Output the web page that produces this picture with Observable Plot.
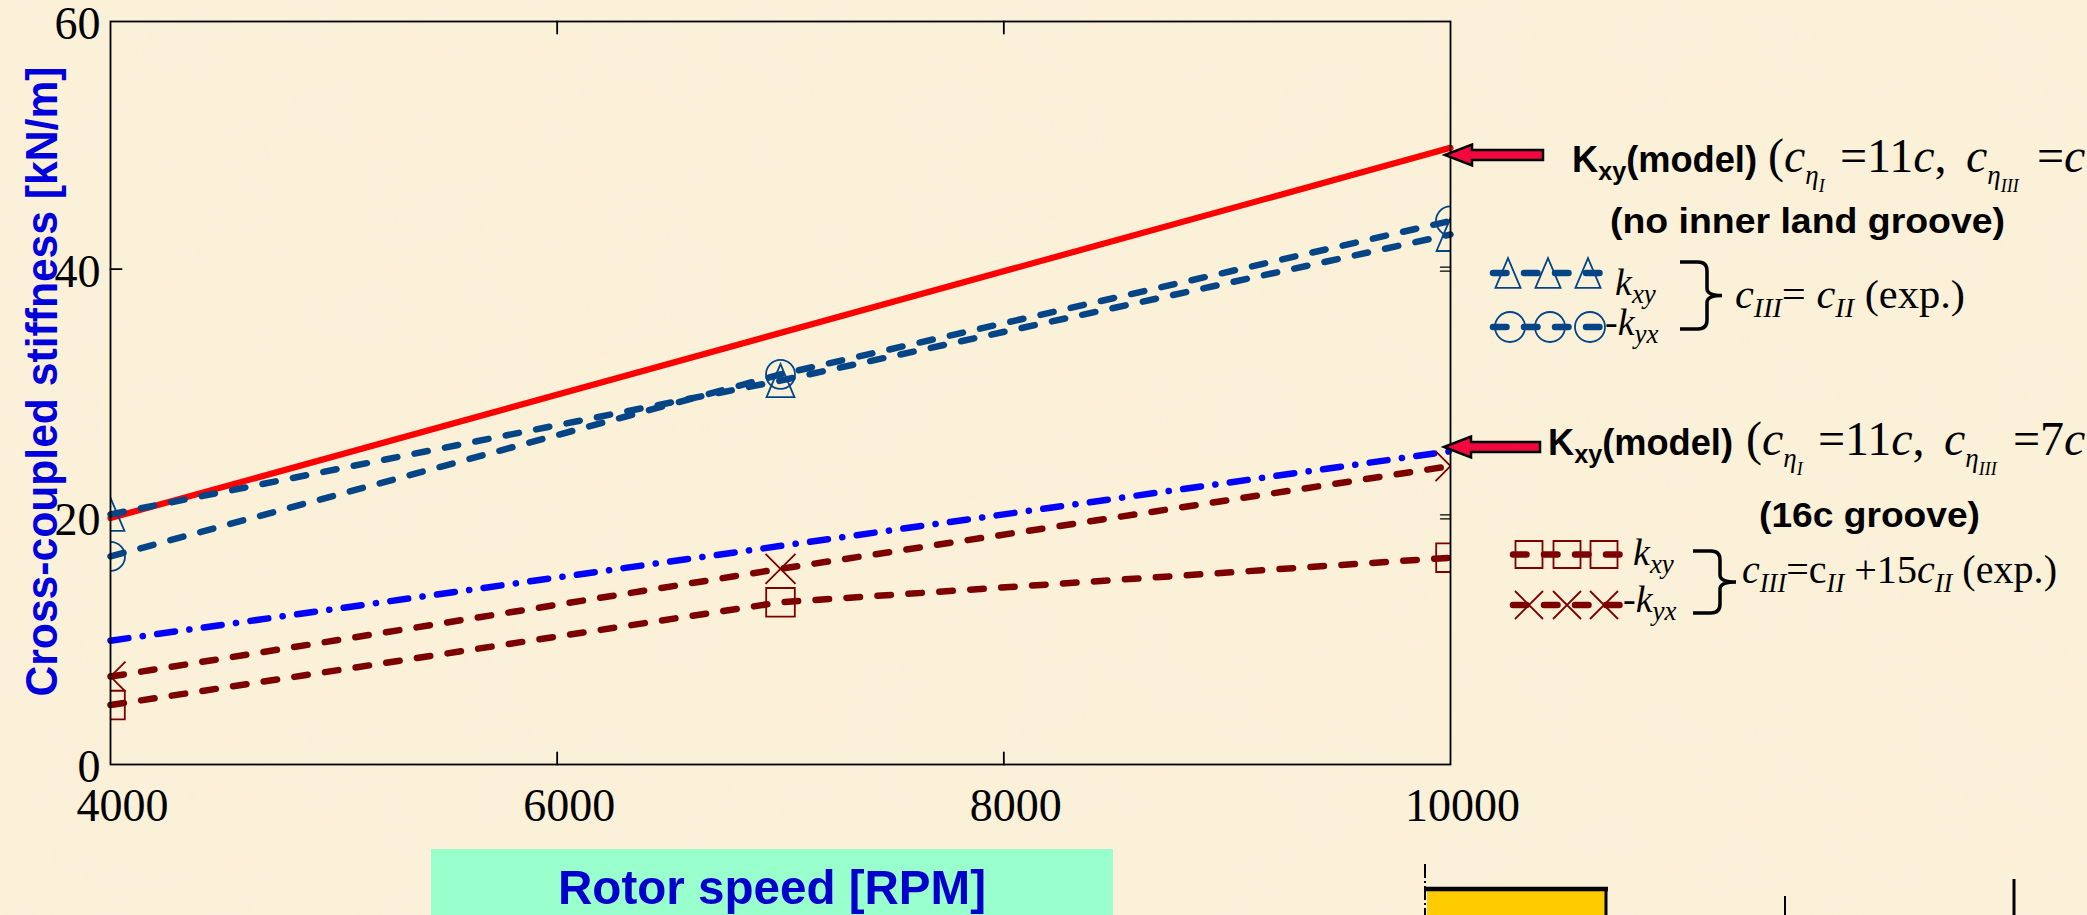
<!DOCTYPE html>
<html><head><meta charset="utf-8">
<script src="https://cdn.jsdelivr.net/npm/d3@7"></script>
<script src="https://cdn.jsdelivr.net/npm/@observablehq/plot@0.6"></script>
<style>
html,body{margin:0;padding:0;background:#FBF0D8;overflow:hidden}
#chart{position:relative;width:2087px;height:915px}
#chart svg{display:block;position:absolute;left:0;top:0}
</style></head><body><div id="chart">
<svg width="2087" height="915" aria-hidden="true">
  <filter id="paper" x="0" y="0" width="100%" height="100%">
    <feTurbulence type="fractalNoise" baseFrequency="0.011" numOctaves="3" seed="7"/>
    <feColorMatrix type="matrix" values="0 0 0 0 0.93  0 0 0 0 0.86  0 0 0 0 0.70  1.1 0 0 0 -0.45"/>
  </filter>
  <rect width="2087" height="915" filter="url(#paper)" opacity="0.35"/>
</svg>
</div>
<script>
// ---- data ----
const rpmTicks = [4000, 6000, 8000, 10000];
const stiffTicks = [0, 20, 40, 60];
const rpmInnerTicks = [6000, 8000];
const stiffInnerTicks = [20, 40];
const rpmExp = [4000, 7000, 10000];
const rpmModel = [4000, 10000];
const kxyModelNoGroove = [19.9, 49.8];
const kxyModelGroove16c = [10.0, 25.3];
const kxyNoGroove = [20.2, 31.0, 42.8];
const kyxNoGroove = [16.8, 31.5, 43.9];
const kxyGroove16c = [4.8, 13.1, 16.7];
const negKyxGroove16c = [7.1, 15.8, 24.1];

const rows = (xs, vs) => xs.map((x, i) => ({rpm: x, v: vs[i]}));
const modelA = rows(rpmModel, kxyModelNoGroove);
const modelB = rows(rpmModel, kxyModelGroove16c);
const triData = rows(rpmExp, kxyNoGroove);
const cirData = rows(rpmExp, kyxNoGroove);
const sqData = rows(rpmExp, kxyGroove16c);
const xData = rows(rpmExp, negKyxGroove16c);

const navy = "#034586", maroon = "#7D0000";
const dashed = "13.5,17.5";
const dashDot = "18,14.5,0.1,14.5";

// custom MATLAB-like symbols
const triSym = {draw(c, s) { const r = Math.sqrt(s / Math.PI); c.moveTo(0, -1.1 * r); c.lineTo(0.93 * r, 1.1 * r); c.lineTo(-0.93 * r, 1.1 * r); c.closePath(); }};
const sqSym = {draw(c, s) { const r = Math.sqrt(s / Math.PI); c.rect(-r, -r, 2 * r, 2 * r); }};
const xSym = {draw(c, s) { const r = Math.sqrt(s / Math.PI); c.moveTo(-r, -r); c.lineTo(r, r); c.moveTo(r, -r); c.lineTo(-r, r); }};
const cirSym = {draw(c, s) { const r = Math.sqrt(s / Math.PI); c.moveTo(r, 0); c.arc(0, 0, r, 0, 2 * Math.PI); }};
const tickShape = {draw(c, l) { c.moveTo(0, 0); c.lineTo(0, -l); }};

const serif = "Liberation Serif, Times New Roman, serif";
const sans = "Liberation Sans, Arial, sans-serif";

const chart = Plot.plot({
  width: 2087, height: 915,
  marginLeft: 110, marginRight: 637, marginTop: 21, marginBottom: 151,
  x: {domain: [4000, 10000], label: null},
  y: {domain: [0, 60], label: null},
  style: {background: "transparent", overflow: "visible"},
  marks: [
    Plot.axisX(rpmTicks, {tickSize: 0, tickPadding: 24, dx: 12, fontSize: 46, fontFamily: serif, fill: "#000", tickFormat: d => `${d}`, label: null}),
    Plot.axisY(stiffTicks, {tickSize: 0, tickPadding: 10, dy: 3, fontSize: 46, fontFamily: serif, fill: "#000", tickFormat: d => `${d}`, label: null}),
    // inward ticks
    Plot.vector(rpmInnerTicks, {x: d => d, y: () => 0, length: 12, rotate: 0, anchor: "start", shape: tickShape, stroke: "#000", strokeWidth: 1.8}),
    Plot.vector(rpmInnerTicks, {x: d => d, y: () => 60, length: 12, rotate: 180, anchor: "start", shape: tickShape, stroke: "#000", strokeWidth: 1.8}),
    Plot.vector(stiffInnerTicks, {x: () => 4000, y: d => d, length: 11, rotate: 90, anchor: "start", shape: tickShape, stroke: "#000", strokeWidth: 1.8}),
    Plot.vector(stiffInnerTicks, {x: () => 10000, y: d => d, length: 10, rotate: -90, anchor: "start", shape: tickShape, stroke: "#000", strokeWidth: 1.4, dy: -2}),
    Plot.vector(stiffInnerTicks, {x: () => 10000, y: d => d, length: 10, rotate: -90, anchor: "start", shape: tickShape, stroke: "#000", strokeWidth: 1.4, dy: 2}),
    Plot.line(modelA, {x: "rpm", y: "v", stroke: "#FF0000", strokeWidth: 6.2}),
    Plot.line(modelB, {x: "rpm", y: "v", stroke: "#0000FF", strokeWidth: 6.5, strokeDasharray: dashDot, strokeLinecap: "round"}),
    Plot.line(sqData, {x: "rpm", y: "v", stroke: maroon, strokeWidth: 6.5, strokeDasharray: dashed, strokeLinecap: "round"}),
    Plot.line(xData, {x: "rpm", y: "v", stroke: maroon, strokeWidth: 6.5, strokeDasharray: dashed, strokeLinecap: "round"}),
    Plot.line(triData, {x: "rpm", y: "v", stroke: navy, strokeWidth: 6.5, strokeDasharray: dashed, strokeLinecap: "round"}),
    Plot.line(cirData, {x: "rpm", y: "v", stroke: navy, strokeWidth: 6.5, strokeDasharray: dashed, strokeLinecap: "round"}),
    Plot.dot(triData, {x: "rpm", y: "v", symbol: triSym, r: 15, fill: "none", stroke: navy, strokeWidth: 1.8, clip: true}),
    Plot.dot(cirData, {x: "rpm", y: "v", symbol: cirSym, r: 14.5, fill: "none", stroke: navy, strokeWidth: 1.8, clip: true}),
    Plot.dot(sqData, {x: "rpm", y: "v", symbol: sqSym, r: 14.3, fill: "none", stroke: maroon, strokeWidth: 1.8, clip: true}),
    Plot.dot(xData, {x: "rpm", y: "v", symbol: xSym, r: 15, fill: "none", stroke: maroon, strokeWidth: 1.8, clip: true}),
    Plot.frame({stroke: "#000", strokeWidth: 1.8})
  ]
});
document.getElementById("chart").appendChild(chart);

// ---- annotations (pixel space) ----
const svg = d3.select(chart);
const g = svg.append("g").attr("text-anchor", "start");

// x-axis title box
g.append("rect").attr("x", 431).attr("y", 849).attr("width", 682).attr("height", 70).attr("fill", "#99FFCC");
g.append("text").attr("x", 772).attr("y", 904).attr("text-anchor", "middle")
  .attr("font-family", sans).attr("font-weight", "bold").attr("font-size", 49).attr("fill", "#0000CC")
  .attr("textLength", 428).attr("lengthAdjust", "spacingAndGlyphs").text("Rotor speed [RPM]");
// y-axis title
g.append("text").attr("transform", "translate(57,381.5) rotate(-90)").attr("text-anchor", "middle")
  .attr("font-family", sans).attr("font-weight", "bold").attr("font-size", 45).attr("fill", "#0000DD")
  .attr("textLength", 630).attr("lengthAdjust", "spacingAndGlyphs").text("Cross-coupled stiffness [kN/m]");

// arrows
function arrow(tipX, tipY, tailX) {
  const hb = tipX + 27;
  const pts = [[tipX, tipY], [hb, tipY - 10.5], [hb, tipY - 5], [tailX, tipY - 5], [tailX, tipY + 5], [hb, tipY + 5], [hb, tipY + 10.5]];
  g.append("polygon").attr("points", pts.map(p => p.join(",")).join(" "))
    .attr("fill", "#F2083E").attr("stroke", "#000").attr("stroke-width", 2.5).attr("stroke-linejoin", "miter");
}
arrow(1445, 155, 1543);
arrow(1444, 447, 1540);

// "Kxy(model)" labels
function kmodel(x, y) {
  const t = g.append("text").attr("x", x).attr("y", y).attr("font-family", sans).attr("font-weight", "bold")
    .attr("font-size", 36).attr("fill", "#000").attr("textLength", 185).attr("lengthAdjust", "spacingAndGlyphs");
  t.append("tspan").text("K");
  t.append("tspan").attr("font-size", 25).attr("dy", 8).text("xy");
  t.append("tspan").attr("dy", -8).text("(model)");
}
kmodel(1572, 172);
kmodel(1548, 455);

// math parts: {x (optional absolute), t, i: italic, fs, dy (relative to base line)}
function math(y, parts) {
  const t = g.append("text").attr("y", y).attr("font-family", serif).attr("font-size", 48).attr("fill", "#000");
  for (const p of parts) {
    const s = t.append("tspan").text(p.t).attr("y", y + (p.dy || 0));
    if (p.x != null) s.attr("x", p.x);
    if (p.i) s.attr("font-style", "italic");
    if (p.fs) s.attr("font-size", p.fs);
  }
}
math(172, [
  {x: 1768, t: "("}, {t: "c", i: 1},
  {t: "\u03B7", i: 1, fs: 27, dy: 12}, {t: "I", i: 1, fs: 18, dy: 20},
  {x: 1840, t: "=11"}, {t: "c", i: 1}, {t: ","},
  {x: 1966, t: "c", i: 1}, {t: "\u03B7", i: 1, fs: 27, dy: 12}, {t: "III", i: 1, fs: 18, dy: 20},
  {x: 2037, t: "="}, {t: "c", i: 1}
]);
math(455, [
  {x: 1746, t: "("}, {t: "c", i: 1},
  {t: "\u03B7", i: 1, fs: 27, dy: 12}, {t: "I", i: 1, fs: 18, dy: 20},
  {x: 1818, t: "=11"}, {t: "c", i: 1}, {t: ","},
  {x: 1944, t: "c", i: 1}, {t: "\u03B7", i: 1, fs: 27, dy: 12}, {t: "III", i: 1, fs: 18, dy: 20},
  {x: 2013, t: "=7"}, {t: "c", i: 1}
]);

// subtitles
g.append("text").attr("x", 1610).attr("y", 233).attr("font-family", sans).attr("font-weight", "bold").attr("font-size", 35)
  .attr("textLength", 395).attr("lengthAdjust", "spacingAndGlyphs").text("(no inner land groove)");
g.append("text").attr("x", 1759).attr("y", 527).attr("font-family", sans).attr("font-weight", "bold").attr("font-size", 35)
  .attr("textLength", 221).attr("lengthAdjust", "spacingAndGlyphs").text("(16c groove)");

// legend samples
function sample(y, x0, x1, xs, sym, r, color) {
  g.append("line").attr("x1", x0).attr("x2", x1).attr("y1", y).attr("y2", y).attr("stroke", color)
    .attr("stroke-width", 6.5).attr("stroke-dasharray", dashed).attr("stroke-linecap", "round");
  for (const x of xs) {
    g.append("path").attr("transform", `translate(${x},${y})`).attr("d", d3.symbol(sym, Math.PI * r * r)())
      .attr("fill", "none").attr("stroke", color).attr("stroke-width", 1.8);
  }
}
sample(273, 1493, 1607, [1508, 1548, 1588], triSym, 13.5, navy);
sample(327, 1493, 1607, [1510, 1550, 1590], cirSym, 15, navy);
sample(554.5, 1513, 1620, [1529, 1567, 1604], sqSym, 13.5, maroon);
sample(605, 1513, 1620, [1529, 1567, 1604], xSym, 14, maroon);

function klabel(x, y, pre, sub) {
  const t = g.append("text").attr("x", x).attr("y", y).attr("font-family", serif).attr("font-size", 38).attr("fill", "#000");
  if (pre) t.append("tspan").text(pre);
  t.append("tspan").attr("font-style", "italic").text("k");
  t.append("tspan").attr("font-style", "italic").attr("font-size", 27).attr("dy", 8).text(sub);
}
klabel(1615, 295, "", "xy");
klabel(1605, 335, "-", "yx");
klabel(1633, 565, "", "xy");
klabel(1623, 612, "-", "yx");

// braces
function brace(x0, xv, xt, y0, y1) {
  const m = (y0 + y1) / 2;
  const d = `M${x0},${y0} L${xv - 9},${y0} Q${xv},${y0} ${xv},${y0 + 9} L${xv},${m - 7} Q${xv},${m} ${xt},${m} Q${xv},${m} ${xv},${m + 7} L${xv},${y1 - 9} Q${xv},${y1} ${xv - 9},${y1} L${x0},${y1}`;
  g.append("path").attr("d", d).attr("fill", "none").attr("stroke", "#000").attr("stroke-width", 3.5);
}
brace(1680, 1707, 1722, 262, 329);
brace(1693, 1720, 1736, 551, 613);

// condition texts
function cond(x, y, len, parts) {
  const t = g.append("text").attr("x", x).attr("y", y).attr("font-family", serif).attr("font-size", 41).attr("fill", "#000")
    .attr("textLength", len).attr("lengthAdjust", "spacingAndGlyphs");
  let cur = 0;
  for (const p of parts) {
    const s = t.append("tspan").text(p.t);
    if (p.i) s.attr("font-style", "italic");
    const want = p.sub ? 9 : 0;
    if (p.sub) s.attr("font-size", 27);
    if (want !== cur) { s.attr("dy", want - cur); cur = want; }
  }
}
cond(1735, 308, 230, [
  {t: "c", i: 1}, {t: "III", i: 1, sub: 1}, {t: "= "}, {t: "c", i: 1}, {t: "II", i: 1, sub: 1}, {t: " (exp.)"}
]);
cond(1742, 583, 315, [
  {t: "c", i: 1}, {t: "III", i: 1, sub: 1}, {t: "=c"}, {t: "II", i: 1, sub: 1}, {t: " +15"}, {t: "c", i: 1}, {t: "II", i: 1, sub: 1}, {t: " (exp.)"}
]);

// partial diagram at the bottom right
g.append("rect").attr("x", 1427).attr("y", 889).attr("width", 179).attr("height", 30).attr("fill", "#FFCC00");
g.append("line").attr("x1", 1425).attr("x2", 1608).attr("y1", 889).attr("y2", 889).attr("stroke", "#000").attr("stroke-width", 4.5);
g.append("line").attr("x1", 1606).attr("x2", 1606).attr("y1", 889).attr("y2", 915).attr("stroke", "#000").attr("stroke-width", 3);
g.append("line").attr("x1", 1425).attr("x2", 1425).attr("y1", 864).attr("y2", 915).attr("stroke", "#000").attr("stroke-width", 2).attr("stroke-dasharray", "14,3,2,3");
g.append("line").attr("x1", 1785).attr("x2", 1785).attr("y1", 896).attr("y2", 915).attr("stroke", "#000").attr("stroke-width", 2);
g.append("line").attr("x1", 2014).attr("x2", 2014).attr("y1", 879).attr("y2", 915).attr("stroke", "#000").attr("stroke-width", 3);
</script>
</body></html>
